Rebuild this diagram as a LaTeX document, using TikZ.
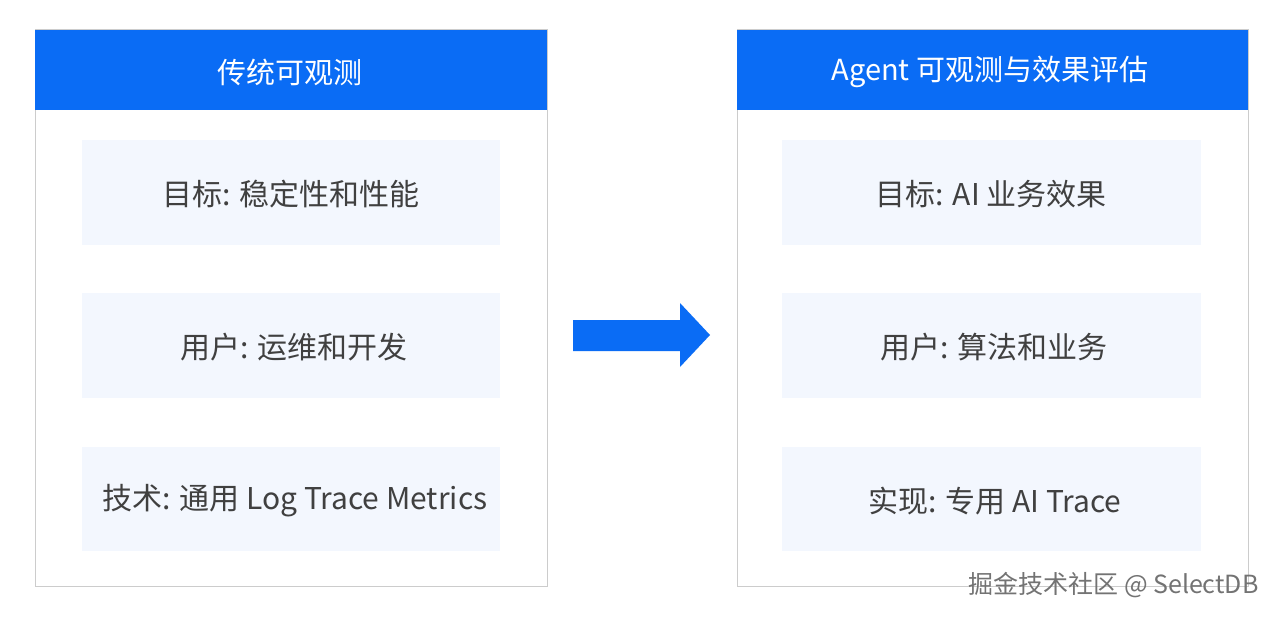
\documentclass[tikz,border=0pt]{standalone}
\usepackage{fontspec}
\setmainfont{Noto Sans CJK SC}
\begin{document}
\begin{tikzpicture}[x=1pt,y=-1pt,
  panel/.style={draw=black!20,line width=1pt,fill=white},
  head/.style={text=white,font=\fontsize{29}{33}\selectfont},
  item/.style={text=black!75,font=\fontsize{30}{34}\selectfont}]
\definecolor{hblue}{HTML}{0A6CF5}
\definecolor{ibg}{HTML}{F3F7FE}
\useasboundingbox (0,0) rectangle (1280,618);
\fill[white] (0,0) rectangle (1280,618);
% left
\draw[panel] (35,30) rectangle (547,586);
\fill[hblue] (35,30) rectangle (547,110);
\node[head] (lh) at (290,72) {传统可观测};
\fill[ibg] (82,140) rectangle (500,245);
\node[item] (l1) at (291,194) {目标: 稳定性和性能};
\fill[ibg] (82,293) rectangle (500,398);
\node[item] (l2) at (294,347) {用户: 运维和开发};
\fill[ibg] (82,447) rectangle (500,551);
\node[item] (l3) at (295,501) {技术: 通用 Log Trace Metrics};
% right
\draw[panel] (737,30) rectangle (1248,586);
\fill[hblue] (737,30) rectangle (1248,110);
\node[head] (rh) at (990,72) {Agent 可观测与效果评估};
\fill[ibg] (782,140) rectangle (1201,245);
\node[item] (r1) at (991,194) {目标: AI 业务效果};
\fill[ibg] (782,293) rectangle (1201,398);
\node[item] (r2) at (994,347) {用户: 算法和业务};
\fill[ibg] (782,447) rectangle (1201,551);
\node[item] (r3) at (995,501) {实现: 专用 AI Trace};
% arrow
\fill[hblue] (573,320) -- (680,320) -- (680,303) -- (710,335) -- (680,367) -- (680,351) -- (573,351) -- cycle;
% watermark
\node[text=black!55,font=\fontsize{25}{29}\selectfont,anchor=east] (wm) at (1262,585) {掘金技术社区 @ SelectDB};
\end{tikzpicture}
\end{document}
